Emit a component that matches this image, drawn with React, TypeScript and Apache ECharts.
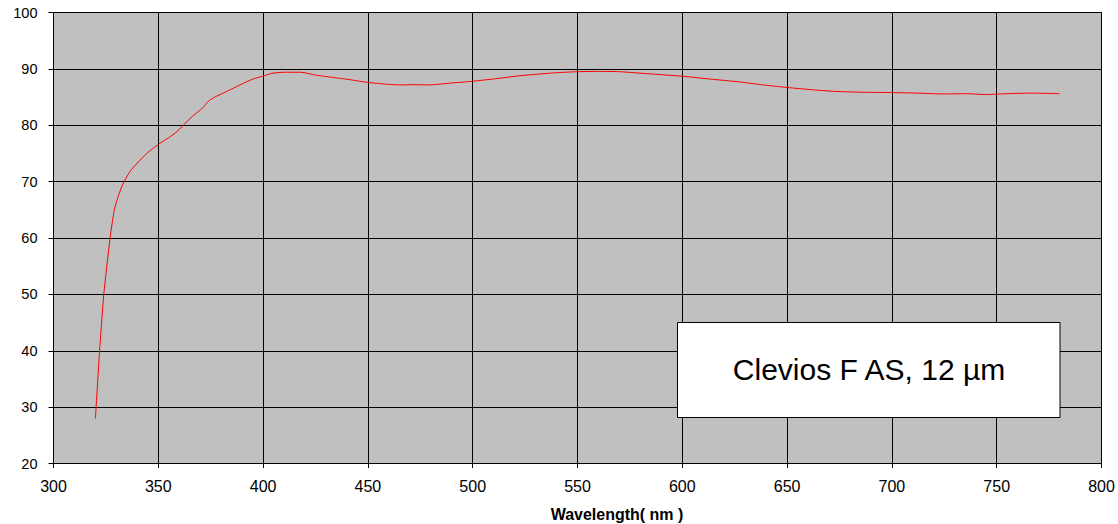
import React, { useEffect, useRef } from "react";
import * as echarts from "echarts";

const wavelengths = [
  320, 322, 324, 327, 329, 331, 333, 336.5, 340, 344.5, 350, 355, 359, 363.5, 367, 371, 374, 377, 381, 386,
  392, 396, 400, 404, 410, 418, 425, 433, 441, 450, 458, 466, 472, 479, 490, 500, 512, 523, 539, 550,
  560, 570, 585, 600, 613, 627, 640, 650, 662, 673, 687, 700, 712, 725, 735, 745, 755, 766, 780,
];
const transmission = [
  28, 40, 50, 60, 65, 67.5, 69.5, 71.8, 73.3, 75, 76.6, 77.8, 78.9, 80.6, 81.8, 83, 84.3, 85, 85.7, 86.6,
  87.7, 88.3, 88.7, 89.2, 89.4, 89.4, 88.9, 88.5, 88.1, 87.6, 87.3, 87.15, 87.2, 87.15, 87.5, 87.8, 88.3, 88.8, 89.3, 89.5,
  89.55, 89.5, 89.1, 88.7, 88.2, 87.7, 87.1, 86.7, 86.3, 86.0, 85.85, 85.8, 85.7, 85.55, 85.6, 85.45, 85.6, 85.7, 85.6,
];
const xTitle = "Wavelength( nm )";
const boxLabel = "Clevios F AS, 12 µm";

export default function App() {
  const ref = useRef<HTMLDivElement>(null);
  useEffect(() => {
    if (!ref.current) return;
    const chart = echarts.init(ref.current, undefined, { renderer: "svg" });
    const font = "'Liberation Sans', Arial, sans-serif";
    chart.setOption({
      animation: false,
      grid: {
        left: 53.5,
        right: 16.5,
        top: 12.5,
        bottom: 60.5,
        show: true,
        backgroundColor: "#c0c0c0",
        borderColor: "#000",
        borderWidth: 1,
      },
      xAxis: {
        type: "value",
        min: 300,
        max: 800,
        interval: 50,
        axisLine: { show: true, onZero: false, lineStyle: { color: "#000", width: 1 } },
        axisTick: { show: true, inside: false, length: 4.5, lineStyle: { color: "#000" } },
        axisLabel: { fontFamily: font, fontSize: 16, color: "#000", margin: 15 },
        splitLine: { show: true, lineStyle: { color: "#000", width: 1 } },
      },
      yAxis: {
        type: "value",
        min: 20,
        max: 100,
        interval: 10,
        axisLine: { show: true, lineStyle: { color: "#000", width: 1 } },
        axisTick: { show: true, inside: false, length: 5, lineStyle: { color: "#000" } },
        axisLabel: { fontFamily: font, fontSize: 14.5, color: "#000", margin: 16 },
        splitLine: { show: true, lineStyle: { color: "#000", width: 1 } },
      },
      series: [
        {
          type: "line",
          data: wavelengths.map((w, i) => [w, transmission[i]]),
          showSymbol: false,
          smooth: 0.2,
          lineStyle: { color: "#ff0000", width: 1 },
          itemStyle: { color: "#ff0000" },
        },
      ],
      graphic: [
        {
          type: "rect",
          shape: { x: 677.5, y: 322.5, width: 382.5, height: 95 },
          style: { fill: "#fff", stroke: "#000", lineWidth: 1 },
          z: 10,
        },
        {
          type: "text",
          x: 869,
          y: 369,
          style: {
            text: boxLabel,
            fontFamily: font,
            fontSize: 30,
            fill: "#000",
            textAlign: "center",
            textVerticalAlign: "middle",
          },
          z: 11,
        },
        {
          type: "text",
          x: 617,
          y: 514,
          style: {
            text: xTitle,
            fontFamily: font,
            fontSize: 16,
            fontWeight: "bold",
            fill: "#000",
            textAlign: "center",
            textVerticalAlign: "middle",
          },
          z: 11,
        },
      ],
    });
    return () => chart.dispose();
  }, []);
  return (
    <div
      ref={ref}
      style={{ position: "fixed", left: 0, top: 0, width: 1118, height: 524, background: "#fff" }}
    />
  );
}
